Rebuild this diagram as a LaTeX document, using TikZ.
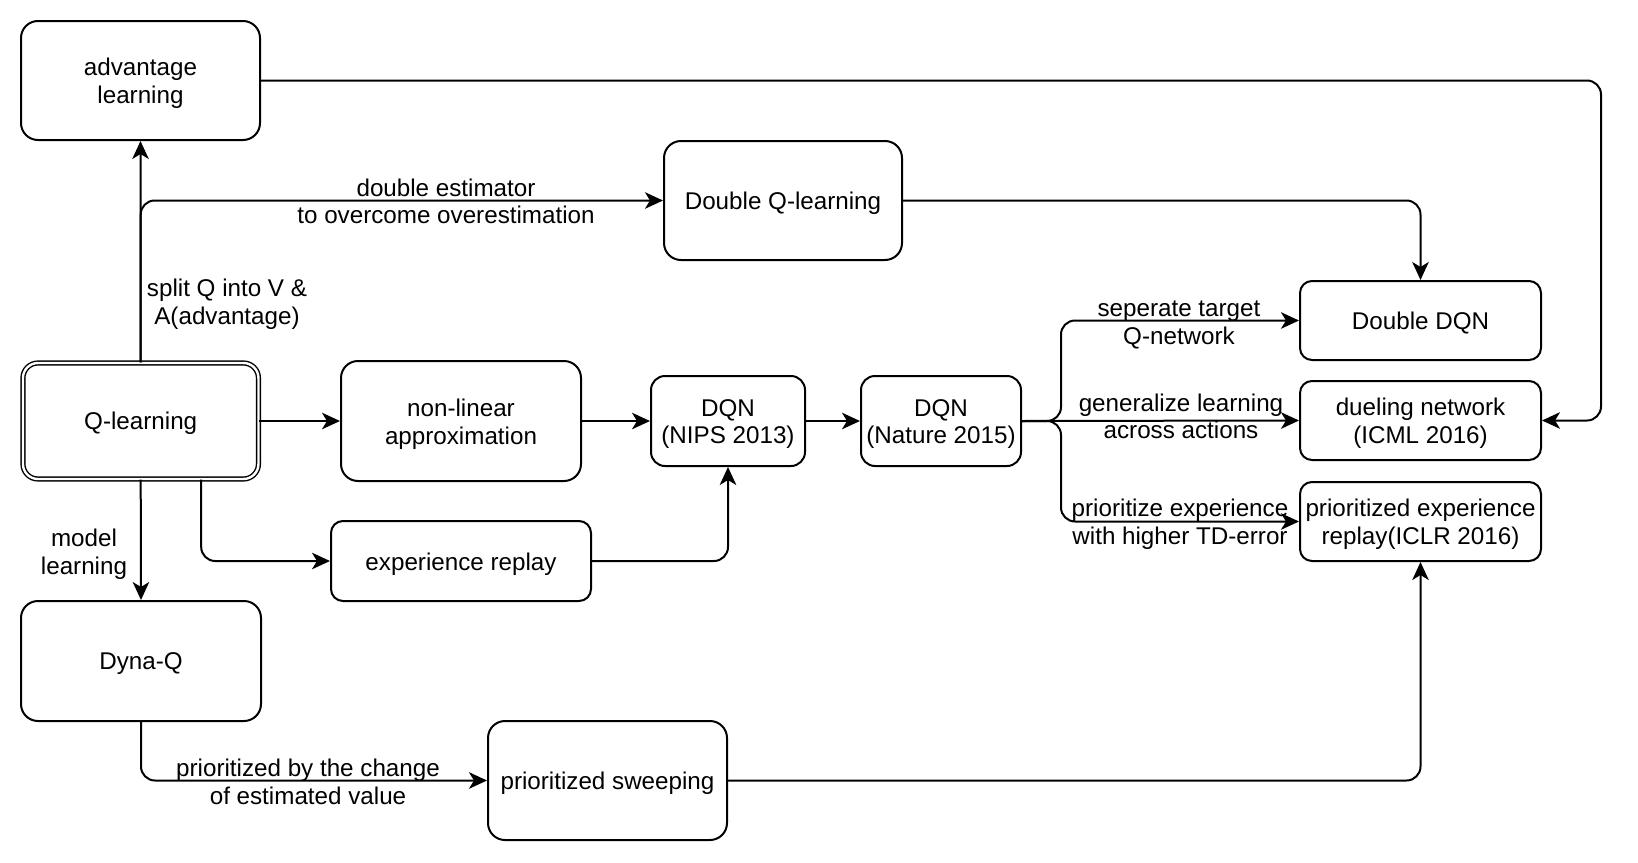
\documentclass[tikz,border=0pt]{standalone}
\usepackage{fontspec}
\setmainfont{Liberation Sans}
\usetikzlibrary{arrows.meta}
\begin{document}
\begin{tikzpicture}[x=1pt,y=-1pt,
  every node/.style={font=\fontsize{24.2pt}{27.6pt}\selectfont},
  box/.style={draw, line width=2pt, inner sep=0pt},
  bigbox/.style={box, rounded corners=17pt},
  smallbox/.style={box, rounded corners=12pt},
  midbox/.style={box, rounded corners=14pt},
  txt/.style={align=center, inner sep=0pt},
  arr/.style={line width=2pt, -{Stealth[length=18pt,width=16.5pt,inset=5pt]}},
  rc/.style={rounded corners=14pt},
  lbl/.style={align=center, inner sep=0pt}]
\useasboundingbox (0,0) rectangle (1638,862);
% boxes
\node[bigbox, minimum width=239pt, minimum height=119pt] (adv) at (140.5,80.5) {};
\node[bigbox, minimum width=238pt, minimum height=119pt] (dql) at (783,200.5) {};
\node[smallbox, minimum width=241pt, minimum height=79pt] (ddqn) at (1420.5,320.5) {};
\node[smallbox, minimum width=241pt, minimum height=79pt] (duel) at (1420.5,420.5) {};
\node[smallbox, minimum width=241pt, minimum height=79pt] (per) at (1420.5,521.5) {};
\node[draw, double, double distance=2.4pt, line width=1.4pt, rounded corners=15pt, inner sep=0pt,
      minimum width=235.5pt, minimum height=116pt] (ql) at (140.7,421) {};
\node[bigbox, minimum width=240pt, minimum height=120pt] (nla) at (461,421) {};
\node[midbox, minimum width=154pt, minimum height=90pt] (nips) at (728,421) {};
\node[midbox, minimum width=160pt, minimum height=90pt] (nature) at (941,421) {};
\node[smallbox, minimum width=260pt, minimum height=80pt] (er) at (461,561) {};
\node[bigbox, minimum width=240pt, minimum height=120pt] (dyna) at (141,661) {};
\node[bigbox, minimum width=239pt, minimum height=119pt] (ps) at (607.5,780.5) {};
% box texts
\node[txt] (tadv) at ([yshift=-3pt]adv.center) {advantage\\learning};
\node[txt] (tdql) at ([yshift=-3pt]dql.center) {Double Q-learning};
\node[txt] (tddqn) at ([yshift=-3pt]ddqn.center) {Double DQN};
\node[txt] (tduel) at ([yshift=-3pt]duel.center) {dueling network\\(ICML 2016)};
\node[txt] (tper) at ([yshift=-3pt]per.center) {prioritized experience\\replay(ICLR 2016)};
\node[txt] (tql) at ([yshift=-2.5pt]ql.center) {Q-learning};
\node[txt] (tnla) at ([yshift=-3pt]nla.center) {non-linear\\approximation};
\node[txt] (tnips) at ([yshift=-3pt]nips.center) {DQN\\(NIPS 2013)};
\node[txt] (tnature) at ([yshift=-3pt]nature.center) {DQN\\(Nature 2015)};
\node[txt] (ter) at ([yshift=-3pt]er.center) {experience replay};
\node[txt] (tdyna) at ([yshift=-3pt]dyna.center) {Dyna-Q};
\node[txt] (tps) at ([yshift=-3pt]ps.center) {prioritized sweeping};
% helper coordinates
\coordinate (cadv) at (1601,420.5);
\coordinate (br) at (1061,421);
% connectors
\draw[arr] (ql.north) -- (adv.south);
\draw[arr, rc] (ql.north) |- (dql.west);
\draw[arr] (ql.east) -- (nla.west);
\draw[arr] (nla.east) -- (nips.west);
\draw[arr] (nips.east) -- (nature.west);
\draw[arr, rc] ([xshift=60.5pt]ql.south) |- (er.west);
\draw[arr, rc] (er.east) -| (nips.south);
\draw[arr] (ql.south) -- (dyna.north);
\draw[arr, rc] (dyna.south) |- (ps.west);
\draw[arr, rc] (ps.east) -| (per.south);
\draw[arr, rc] (adv.east) -| (cadv) -- (duel.east);
\draw[arr, rc] (dql.east) -| (ddqn.north);
\draw[arr, rc] (nature.east) -- (br) |- (ddqn.west);
\draw[arr] (nature.east) -- (duel.west);
\draw[arr, rc] (nature.east) -- (br) |- (per.west);
% labels
\node[lbl] (l1) at (446,201.5) {double estimator\\to overcome overestimation};
\node[lbl] (l2) at (227,304.5) {split Q into V \&\\A(advantage)};
\node[lbl] (l3) at (84,554) {model\\learning};
\node[lbl] (l4) at (308,782) {prioritized by the change\\of estimated value};
\node[lbl] (l5) at (1179,325) {seperate target\\Q-network};
\node[lbl] (l6) at (1181,416.5) {generalize learning\\across actions};
\node[lbl] (l7) at (1180,524) {prioritize experience\\with higher TD-error};
\end{tikzpicture}
\end{document}
